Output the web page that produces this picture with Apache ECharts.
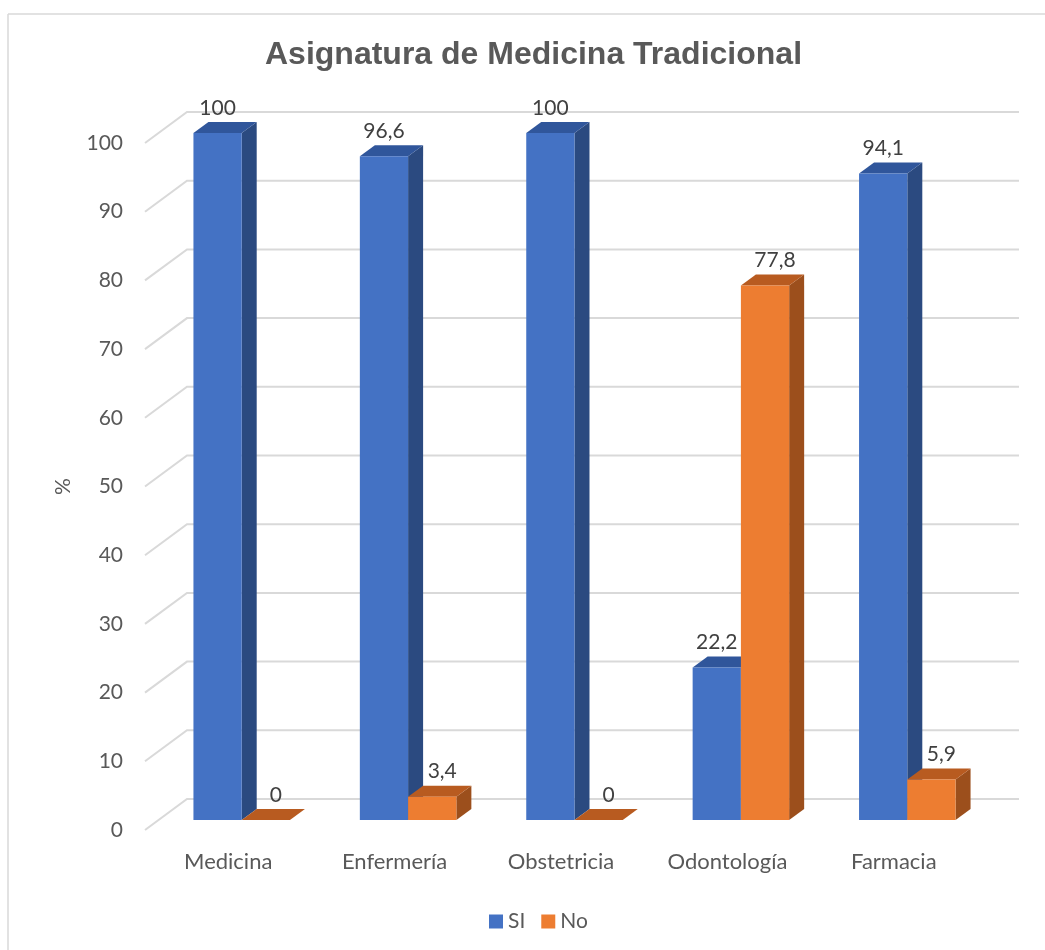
<!DOCTYPE html>
<html>
<head>
<meta charset="utf-8">
<script src="https://cdn.jsdelivr.net/npm/echarts@6/dist/echarts.min.js"></script>
<style>
html, body { margin: 0; padding: 0; background: #fff; }
#chart { width: 1045px; height: 950px; }
</style>
</head>
<body>
<div id="chart"></div>
<script>
var categories = ['Medicina', 'Enfermería', 'Obstetricia', 'Odontología', 'Farmacia'];
var siValues = [100, 96.6, 100, 22.2, 94.1];
var noValues = [0, 3.4, 0, 77.8, 5.9];
var yTicks = [0, 10, 20, 30, 40, 50, 60, 70, 80, 90, 100];

var txtFont = 'Lato';

function fmt(v) {
    return String(v).replace('.', ',');
}

// back wall + left wall lines, drawn from the y scale
function renderGrid(params, api) {
    var cs = params.coordSys;
    var y = api.coord([0, api.value(1)])[1];
    return {
        type: 'polyline',
        shape: { points: [[cs.x, y], [cs.x + 42, y - 31], [cs.x + cs.width + 42, y - 31]] },
        style: { stroke: '#d9d9d9', lineWidth: 2, fill: null }
    };
}

function bar3d(face, side, top, left, labelDx) {
    return function (params, api) {
        var ci = api.value(0), v = api.value(1);
        var base = api.coord([ci, 0]);
        var head = api.coord([ci, v]);
        var w = api.size([1, 0])[0] * 0.29;
        var x0 = base[0] + 13.5 - (left ? w : 0);
        var yb = base[1] - 10, yt = head[1] - 10;
        var dx = 15, dy = 11;
        return {
            type: 'group',
            children: [
                { type: 'polygon', shape: { points: [[x0 + w, yt], [x0 + w + dx, yt - dy], [x0 + w + dx, yb - dy], [x0 + w, yb]] }, style: { fill: side } },
                { type: 'polygon', shape: { points: [[x0, yt], [x0 + dx, yt - dy], [x0 + w + dx, yt - dy], [x0 + w, yt]] }, style: { fill: top } },
                { type: 'rect', shape: { x: x0, y: yt, width: w, height: yb - yt }, style: { fill: face } },
                { type: 'text', style: { text: fmt(v), x: x0 + w / 2 + labelDx, y: yt - 25, align: 'center', verticalAlign: 'middle', fontSize: 21, fontFamily: txtFont, fill: '#404040' } }
            ]
        };
    };
}

var chart = echarts.init(document.getElementById('chart'));
chart.setOption({
    backgroundColor: '#fff',
    animation: false,
    title: {
        text: 'Asignatura de Medicina Tradicional',
        left: 260,
        top: 34,
        textStyle: { fontFamily: 'Liberation Sans', fontSize: 32, fontWeight: 'bold', color: '#595959' }
    },
    legend: {
        data: ['SI', 'No'],
        bottom: 13,
        left: 484,
        icon: 'rect',
        itemWidth: 14,
        itemHeight: 14,
        itemGap: 16,
        textStyle: { fontFamily: txtFont, fontSize: 21, color: '#595959' }
    },
    grid: { left: 145, right: 68, top: 143, bottom: 120 },
    xAxis: {
        type: 'category',
        data: categories,
        axisLine: { show: false },
        axisTick: { show: false },
        axisLabel: { margin: 21, fontFamily: txtFont, fontSize: 22, color: '#595959' }
    },
    yAxis: {
        type: 'value',
        min: 0,
        max: 100,
        interval: 10,
        name: '%',
        nameLocation: 'middle',
        nameGap: 71,
        nameTextStyle: { fontFamily: txtFont, fontSize: 21, color: '#595959' },
        splitLine: { show: false },
        axisLine: { show: false },
        axisTick: { show: false },
        axisLabel: { margin: 22, fontFamily: txtFont, fontSize: 21, color: '#595959' }
    },
    graphic: [
        { type: 'line', shape: { x1: 8, y1: 14, x2: 1045, y2: 14 }, style: { stroke: '#d9d9d9', lineWidth: 1.5 } },
        { type: 'line', shape: { x1: 8, y1: 14, x2: 8, y2: 950 }, style: { stroke: '#d9d9d9', lineWidth: 1.5 } }
    ],
    series: [
        {
            name: 'grid',
            type: 'custom',
            clip: false,
            silent: true,
            renderItem: renderGrid,
            data: yTicks.map(function (t) { return [0, t]; })
        },
        {
            name: 'SI',
            type: 'custom',
            clip: false,
            itemStyle: { color: '#4472C4' },
            renderItem: bar3d('#4472C4', '#2B4A80', '#30569B', true, 0),
            data: siValues.map(function (v, i) { return [i, v]; })
        },
        {
            name: 'No',
            type: 'custom',
            clip: false,
            itemStyle: { color: '#ED7D31' },
            renderItem: bar3d('#ED7D31', '#9C4F1C', '#B85B20', false, 10),
            data: noValues.map(function (v, i) { return [i, v]; })
        }
    ]
});
</script>
</body>
</html>
